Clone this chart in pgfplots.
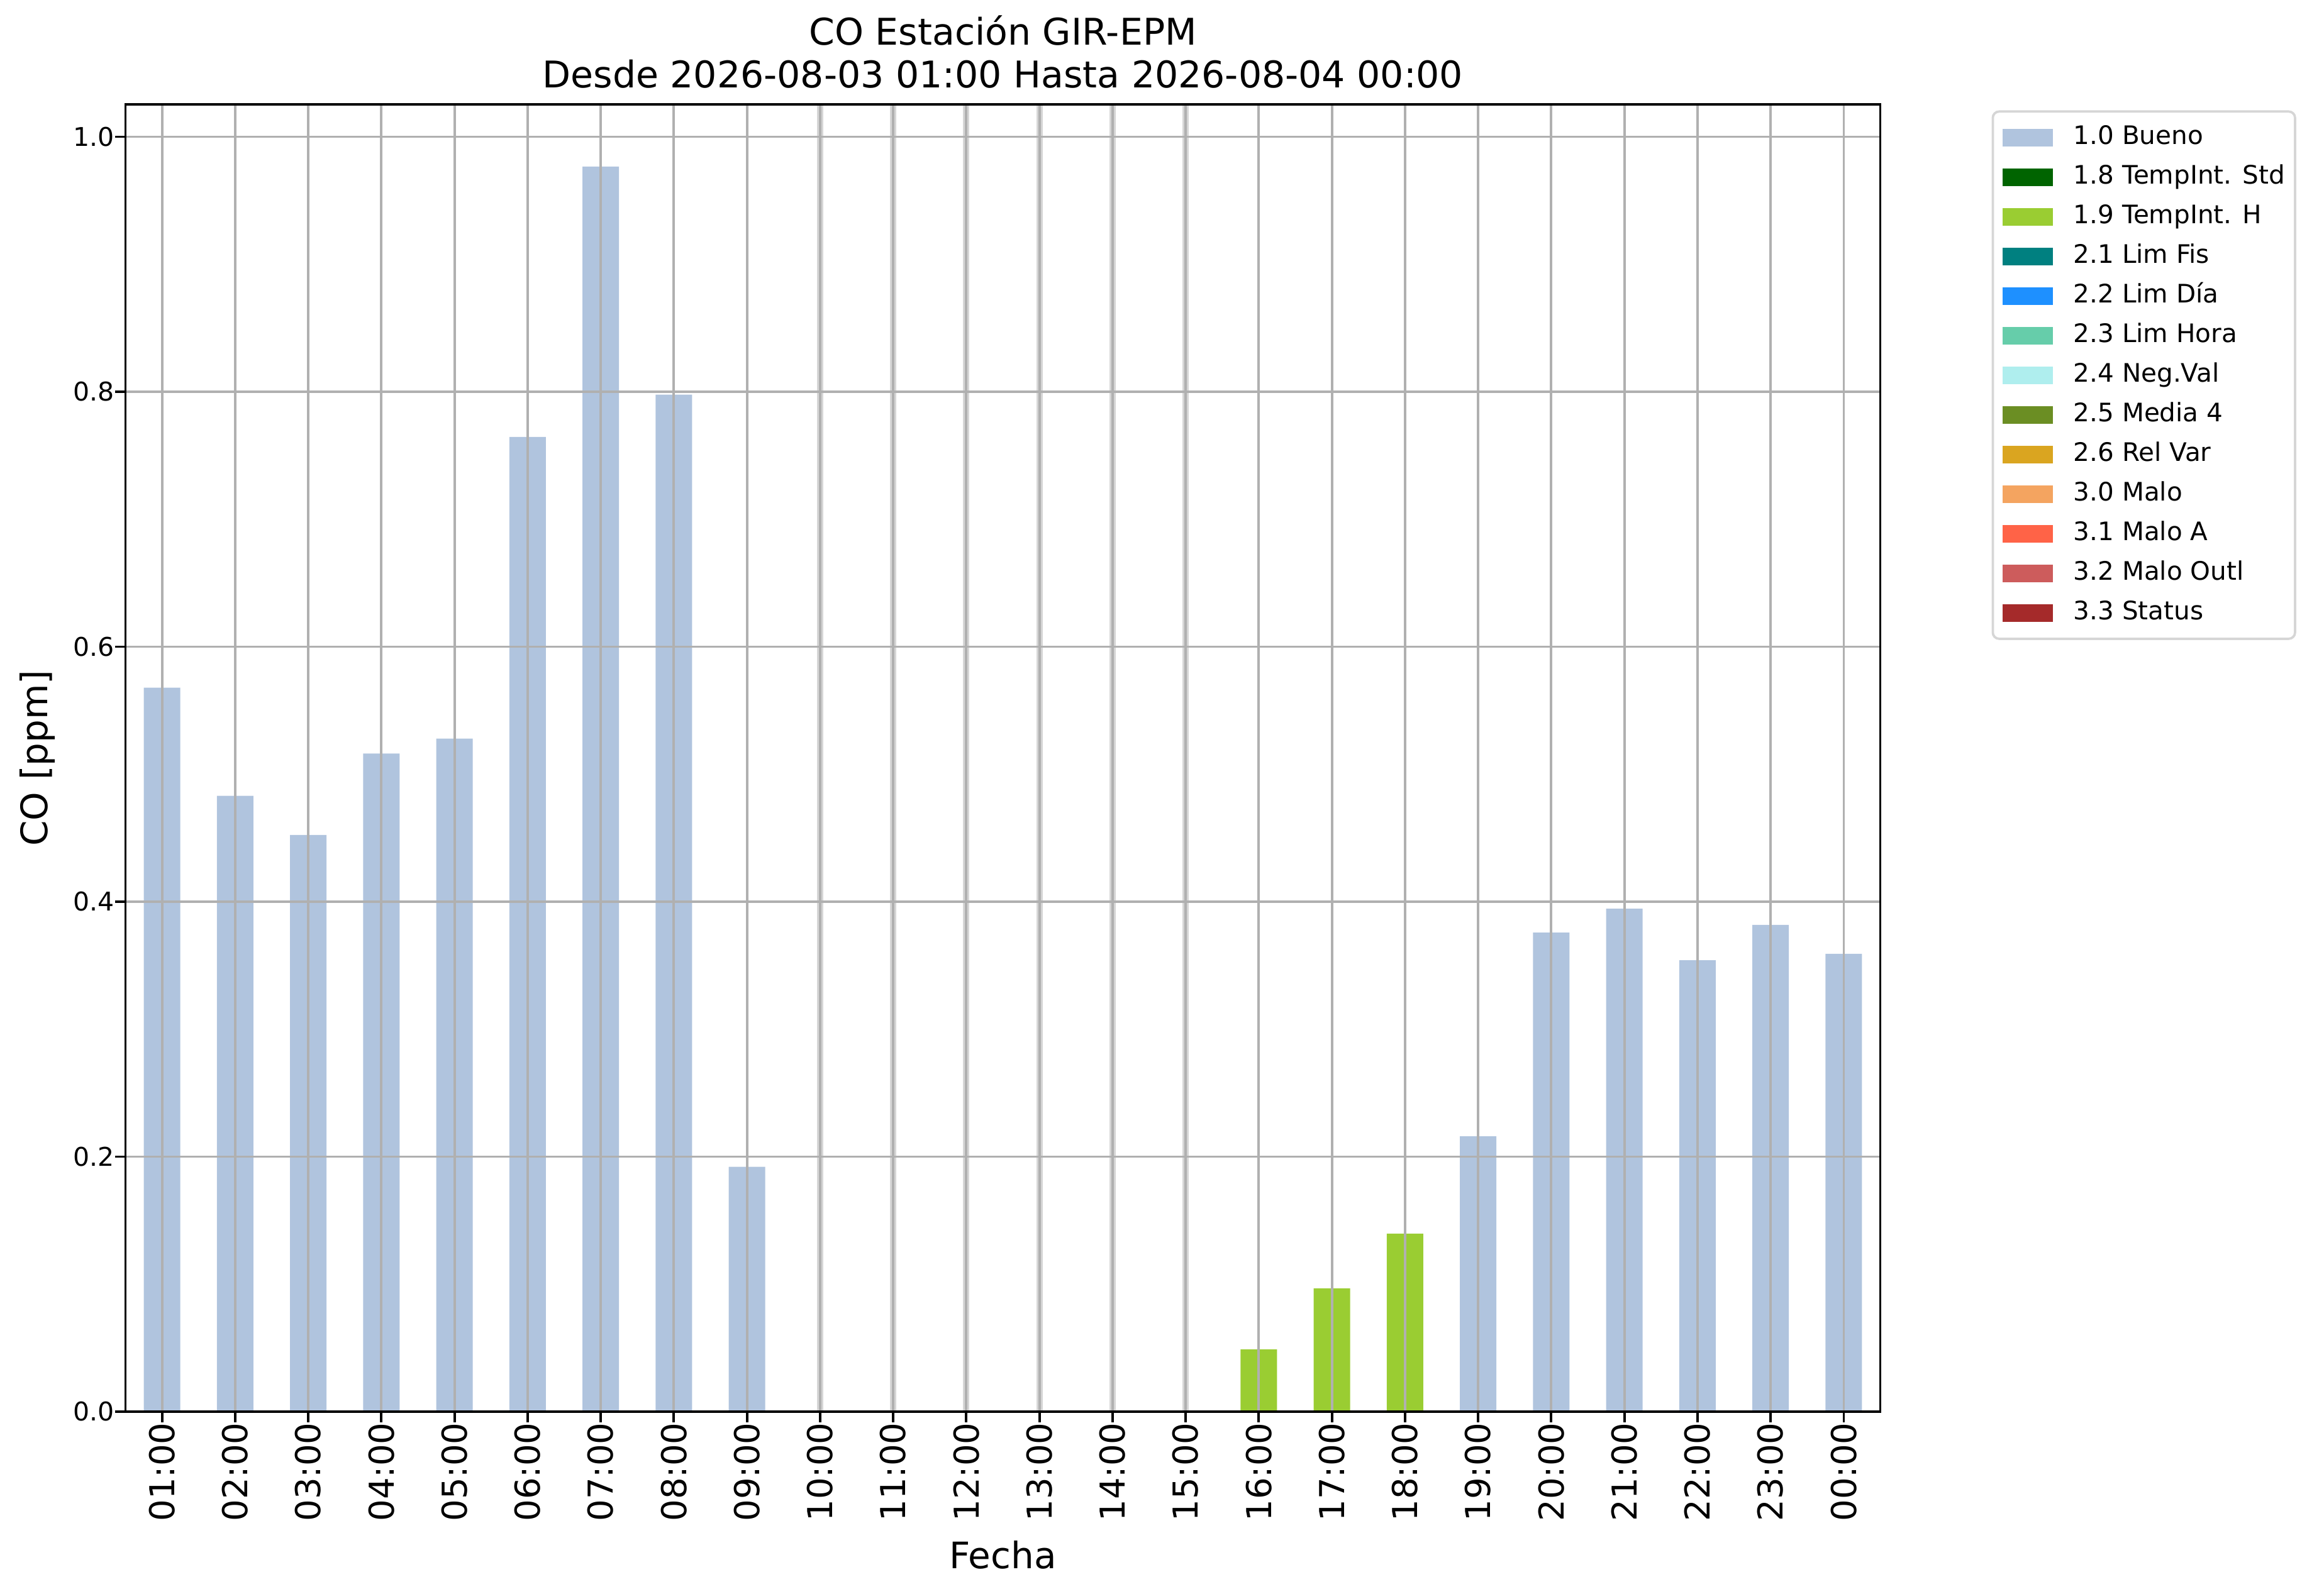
\documentclass[border=0pt]{standalone}
\usepackage{fontspec}
\setmainfont{DejaVu Sans}
\usepackage{pgfplots}
\pgfplotsset{compat=1.18}
\definecolor{cBueno}{HTML}{B0C4DE}
\definecolor{cStd}{HTML}{006400}
\definecolor{cH}{HTML}{9ACD32}
\definecolor{cFis}{HTML}{008080}
\definecolor{cDia}{HTML}{1E90FF}
\definecolor{cHora}{HTML}{66CDAA}
\definecolor{cNeg}{HTML}{AFEEEE}
\definecolor{cMedia}{HTML}{6B8E23}
\definecolor{cRel}{HTML}{DAA520}
\definecolor{cMalo}{HTML}{F4A460}
\definecolor{cMaloA}{HTML}{FF6347}
\definecolor{cOutl}{HTML}{CD5C5C}
\definecolor{cStatus}{HTML}{A52A2A}
\definecolor{gridgray}{HTML}{B0B0B0}
\definecolor{bandgray}{HTML}{D6D6D6}
\definecolor{legframe}{HTML}{D6D6D6}
\pgfplotsset{
  mybar/.style={ybar, bar width=0.5, bar shift=0pt, draw=none, fill=#1,
    legend image code/.code={\fill[fill=#1, draw=none, sharp corners] (0pt,-2.8pt) rectangle (16pt,2.8pt);}},
  myleg/.style={legend image code/.code={\fill[fill=#1, draw=none, sharp corners] (0pt,-2.8pt) rectangle (16pt,2.8pt);}},
}
\begin{document}
\begin{tikzpicture}
\path[use as bounding box] (-39.9pt,-57.8pt) rectangle (699.1pt,449pt);
\begin{axis}[
  at={(0,0)}, anchor=south west,
  width=558pt, height=415.8pt, scale only axis,
  xmin=-0.5, xmax=23.5, ymin=0, ymax=1.0254,
  axis on top,
  axis line style={line width=0.76pt, black},
  tick align=outside, tick pos=left,
  major tick length=3.3pt,
  every tick/.style={line width=0.76pt, black},
  grid=major,
  major grid style={line width=0.76pt, gridgray},
  xtick={0,...,23},
  xticklabels={01:00,02:00,03:00,04:00,05:00,06:00,07:00,08:00,09:00,10:00,11:00,12:00,13:00,14:00,15:00,16:00,17:00,18:00,19:00,20:00,21:00,22:00,23:00,00:00},
  xticklabel style={rotate=90, anchor=east, inner sep=0pt, font=\fontsize{10.9}{13}\selectfont},
  ytick={0,0.2,0.4,0.6,0.8,1.0},
  yticklabel style={font=\fontsize{8.2}{9.8}\selectfont, inner sep=0pt},
  /pgf/number format/assume math mode=true,
  /pgf/number format/fixed, /pgf/number format/fixed zerofill, /pgf/number format/precision=1,
  title={CO Estación GIR-EPM\\Desde 2026-08-03 01:00 Hasta 2026-08-04 00:00},
  title style={at={(axis description cs:0.5,1)}, anchor=south, yshift=-1.0pt, inner sep=0pt, align=center, font=\fontsize{11.7}{13.5}\selectfont},
  xlabel={Fecha},
  xlabel style={at={(axis description cs:0.5,-0.11988)}, anchor=base, inner sep=0pt, font=\fontsize{11.6}{13.9}\selectfont},
  ylabel={CO [ppm]},
  ylabel style={at={(axis description cs:-0.04444,0.5)}, anchor=base, rotate=0, inner sep=0pt, font=\fontsize{11.6}{13.9}\selectfont},
  legend style={at={(1,1)}, anchor=north west, xshift=35.4pt, yshift=-1.9pt,
    draw=legframe, line width=0.75pt, rounded corners=2pt, fill=white,
    font=\fontsize{8.1}{9.7}\selectfont,
    inner xsep=3.2pt, inner ysep=4.5pt, row sep=5.1pt, column sep=6.5pt,
    nodes={inner sep=0pt, text height=6pt, text depth=1.5pt},
    cells={anchor=west}},
  legend cell align=left,
]
\addplot[ycomb, draw=bandgray, line width=2pt, forget plot] coordinates {(9,1.1) (10,1.1) (11,1.1) (12,1.1) (13,1.1) (14,1.1)};
\addplot[mybar=cBueno] coordinates {
 (0,0.5679) (1,0.4830) (2,0.4524) (3,0.5162) (4,0.5279) (5,0.7645) (6,0.9766) (7,0.7977) (8,0.1920)
 (18,0.2160) (19,0.3758) (20,0.3945) (21,0.3541) (22,0.3818) (23,0.3591)};
\addlegendentry{1.0 Bueno}
\addlegendimage{myleg=cStd}
\addlegendentry{1.8 TempInt. Std}
\addplot[mybar=cH] coordinates {(15,0.0489) (16,0.0967) (17,0.1397)};
\addlegendentry{1.9 TempInt. H}
\addlegendimage{myleg=cFis}
\addlegendentry{2.1 Lim Fis}
\addlegendimage{myleg=cDia}
\addlegendentry{2.2 Lim Día}
\addlegendimage{myleg=cHora}
\addlegendentry{2.3 Lim Hora}
\addlegendimage{myleg=cNeg}
\addlegendentry{2.4 Neg.Val}
\addlegendimage{myleg=cMedia}
\addlegendentry{2.5 Media 4}
\addlegendimage{myleg=cRel}
\addlegendentry{2.6 Rel Var}
\addlegendimage{myleg=cMalo}
\addlegendentry{3.0 Malo}
\addlegendimage{myleg=cMaloA}
\addlegendentry{3.1 Malo A}
\addlegendimage{myleg=cOutl}
\addlegendentry{3.2 Malo Outl}
\addlegendimage{myleg=cStatus}
\addlegendentry{3.3 Status}
\end{axis}
\end{tikzpicture}
\end{document}
